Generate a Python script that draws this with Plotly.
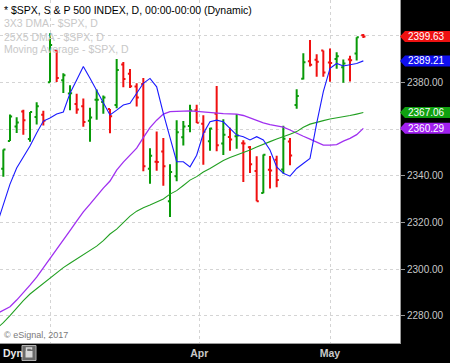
import plotly.graph_objects as go

# ---- data ----
opens = [2343.0, 2354.9, 2361.1, 2367.5, 2355.7, 2365.2, 2366.1, 2380.1, 2393.8, 2380.9,
         2375.2, 2370.7, 2369.8, 2363.5, 2372.5, 2371.6, 2368.6, 2370.3, 2387.7, 2383.7,
         2378.2, 2379.3, 2343.0, 2346.0, 2350.4, 2329.1, 2339.8, 2356.5, 2361.3, 2368.1,
         2362.3, 2354.8, 2366.6, 2353.8, 2356.6, 2356.9, 2353.9, 2352.2, 2342.0, 2332.6,
         2342.5, 2346.8, 2342.7, 2354.7, 2370.3, 2381.5, 2389.0, 2389.7, 2393.7, 2388.5,
         2390.0, 2386.5, 2389.8, 2392.4, 2400.2]
highs = [2351.2, 2366.2, 2365.1, 2368.3, 2367.3, 2371.5, 2367.8, 2401.0, 2393.8, 2383.9,
         2378.8, 2375.1, 2373.1, 2369.1, 2376.9, 2374.4, 2368.6, 2390.0, 2388.7, 2385.7,
         2379.6, 2381.9, 2351.8, 2358.9, 2356.2, 2344.9, 2363.8, 2363.4, 2370.4, 2370.4,
         2365.9, 2360.5, 2378.4, 2364.2, 2360.5, 2366.4, 2355.2, 2352.7, 2348.3, 2349.1,
         2348.4, 2348.5, 2361.4, 2356.2, 2377.0, 2392.5, 2398.2, 2392.1, 2393.7, 2394.5,
         2392.9, 2389.8, 2391.4, 2399.3, 2400.7]
lows = [2339.6, 2354.9, 2358.3, 2357.5, 2354.5, 2361.9, 2361.5, 2380.1, 2380.2, 2375.4,
        2368.0, 2366.5, 2361.0, 2354.5, 2364.0, 2366.5, 2358.2, 2368.9, 2377.9, 2377.6,
        2369.7, 2341.9, 2336.5, 2342.1, 2335.7, 2322.3, 2337.6, 2352.9, 2358.6, 2362.6,
        2344.7, 2350.7, 2350.5, 2348.9, 2350.7, 2351.5, 2337.3, 2341.2, 2329.0, 2332.5,
        2334.5, 2335.1, 2340.9, 2344.5, 2368.7, 2381.2, 2386.8, 2382.4, 2382.4, 2380.3,
        2385.8, 2379.8, 2380.4, 2389.4, 2399.0]
closes = [2351.2, 2365.4, 2362.8, 2363.8, 2367.3, 2369.8, 2363.6, 2396.0, 2381.9, 2383.1,
          2375.3, 2368.4, 2363.0, 2364.9, 2372.6, 2373.5, 2365.5, 2385.3, 2381.4, 2378.3,
          2373.5, 2344.0, 2348.5, 2345.9, 2344.0, 2341.6, 2358.6, 2361.1, 2368.1, 2362.7,
          2358.8, 2360.2, 2353.0, 2357.5, 2355.5, 2357.2, 2353.8, 2344.9, 2329.0, 2349.0,
          2342.2, 2338.2, 2355.8, 2348.7, 2374.2, 2388.6, 2387.5, 2388.8, 2384.2, 2388.3,
          2391.2, 2388.1, 2389.5, 2399.3, 2399.63]

# moving averages, one value per bar starting one bar before the first bar
ma_3x3 = [2318.8, 2327.4, 2336.4, 2343.3, 2348.0, 2352.7, 2358.3, 2363.4, 2364.7, 2366.4,
          2367.3, 2375.3, 2381.0, 2386.8, 2381.8, 2376.7, 2371.6, 2366.0, 2368.1, 2370.3,
          2371.0, 2375.3, 2379.6, 2381.7, 2378.1, 2366.7, 2356.7, 2346.0, 2346.0, 2343.8,
          2348.8, 2358.1, 2363.1, 2363.8, 2363.1, 2360.3, 2357.4, 2356.7, 2355.3, 2356.7,
          2355.3, 2351.0, 2343.8, 2341.0, 2339.8, 2343.1, 2345.3, 2347.4, 2362.4, 2376.0,
          2386.0, 2388.1, 2387.0, 2387.4, 2388.1, 2389.21]
ma_25x5 = [2274.5, 2277.0, 2280.0, 2283.3, 2286.5, 2289.3, 2291.6, 2294.0, 2296.0, 2298.3,
           2300.6, 2302.5, 2304.3, 2306.0, 2307.9, 2309.8, 2312.2, 2315.0, 2317.1, 2320.1,
           2322.7, 2324.8, 2326.3, 2327.4, 2328.7, 2330.0, 2332.1, 2333.6, 2335.8, 2338.1,
           2339.6, 2341.6, 2343.1, 2344.8, 2346.5, 2347.8, 2348.8, 2350.0, 2351.0, 2352.3,
           2353.3, 2354.6, 2355.7, 2356.6, 2357.8, 2358.9, 2360.8, 2362.1, 2363.0, 2363.6,
           2364.3, 2364.7, 2365.2, 2365.8, 2366.4, 2367.06]
ma_avg = [2280.9, 2282.4, 2283.8, 2286.7, 2289.7, 2293.1, 2296.5, 2300.4, 2304.6, 2308.5,
          2312.4, 2316.5, 2320.5, 2324.5, 2327.8, 2331.3, 2334.7, 2337.7, 2342.4, 2345.8,
          2348.8, 2351.8, 2356.3, 2360.6, 2363.8, 2366.4, 2367.5, 2367.7, 2367.8, 2367.8,
          2367.6, 2367.3, 2366.9, 2366.7, 2366.6, 2366.5, 2366.4, 2365.8, 2364.7, 2363.6,
          2362.6, 2361.9, 2361.5, 2360.8, 2359.6, 2358.1, 2356.9, 2355.7, 2354.3, 2353.1,
          2353.1, 2353.3, 2354.8, 2356.0, 2357.6, 2360.29]

y_ticks = [2280, 2300, 2320, 2340, 2360, 2380, 2400]
y_tick_labels = ["2280.00", "2300.00", "2320.00", "2340.00", "2360.00", "2380.00", ""]
month_ticks = [7, 29.4, 49]
month_labels = ["", "Apr", "May"]

Y_RANGE = [2268.3, 2415.3]
X_RANGE = [-0.5, 59.5]

bar_x = list(range(len(closes)))
ma_x = list(range(-1, len(closes)))

GREEN_BAR = "#089a08"
RED_BAR = "#f01010"
FONT = "Arial, Liberation Sans, sans-serif"

fig = go.Figure()
fig.add_trace(go.Ohlc(
    x=bar_x, open=opens, high=highs, low=lows, close=closes,
    increasing=dict(line=dict(color=GREEN_BAR, width=2)),
    decreasing=dict(line=dict(color=RED_BAR, width=2)),
    tickwidth=0.32, hoverinfo="skip", showlegend=False))
fig.add_trace(go.Scatter(x=ma_x, y=ma_avg, mode="lines",
                         line=dict(color="#a030f0", width=1.3), showlegend=False))
fig.add_trace(go.Scatter(x=ma_x, y=ma_25x5, mode="lines",
                         line=dict(color="#22a022", width=1.1), showlegend=False))
fig.add_trace(go.Scatter(x=ma_x, y=ma_3x3, mode="lines",
                         line=dict(color="#1a1aff", width=1.1), showlegend=False))

def py(v):
    return (v - Y_RANGE[0]) / (Y_RANGE[1] - Y_RANGE[0])

PLOT_W, PLOT_H = 400, 343
shapes = []
annotations = []
tags = [(closes[-1], "#ee1111"), (ma_3x3[-1], "#1010f0"),
        (ma_25x5[-1], "#10a010"), (ma_avg[-1], "#a020f0")]
for val, col in tags:
    yc = py(val)
    hh = 5.5 / PLOT_H
    x0 = 1.0
    x1 = 1.0 + 5 / PLOT_W
    x2 = 1.0 + 50 / PLOT_W
    shapes.append(dict(type="path", xref="paper", yref="paper",
                       path=f"M {x0},{yc} L {x1},{yc+hh} L {x2},{yc+hh} L {x2},{yc-hh} L {x1},{yc-hh} Z",
                       fillcolor=col, line=dict(width=0), layer="above"))
    annotations.append(dict(xref="paper", yref="paper", x=1.0 + 5.5 / PLOT_W, y=yc,
                            xanchor="left", yanchor="middle", showarrow=False,
                            text=f"{val:.2f}", font=dict(family=FONT, size=10, color="#ffffff")))

# header texts
header = [("* $SPX, S & P 500 INDEX, D, 00:00-00:00 (Dynamic)", "#000000", 10),
          ("3X3 DMA - $SPX, D", "#c8c8c8", 23.5),
          ("25X5 DMA - $SPX, D", "#c8c8c8", 36.5),
          ("Moving Average - $SPX, D", "#c8c8c8", 49.5)]
for txt, col, ypx in header:
    annotations.append(dict(xref="paper", yref="paper", x=2 / PLOT_W, y=1 - ypx / PLOT_H,
                            xanchor="left", yanchor="middle", showarrow=False, text=txt,
                            font=dict(family=FONT, size=10.5, color=col)))
annotations.append(dict(xref="paper", yref="paper", x=2 / PLOT_W, y=1 - 335 / PLOT_H,
                        xanchor="left", yanchor="middle", showarrow=False,
                        text="© eSignal, 2017", font=dict(family=FONT, size=9, color="#7a7a7a")))
annotations.append(dict(xref="paper", yref="paper", x=0.5 / PLOT_W, y=-10 / PLOT_H,
                        xanchor="left", yanchor="middle", showarrow=False,
                        text="<b>Dyn</b>", font=dict(family=FONT, size=10.5, color="#e8e8e8")))
# lock button
shapes.append(dict(type="rect", xref="paper", yref="paper",
                   x0=22 / PLOT_W, x1=36 / PLOT_W, y0=-2.5 / PLOT_H, y1=-17.5 / PLOT_H,
                   fillcolor="#6a6a6a", line=dict(color="#b0b0b0", width=1), layer="above"))
shapes.append(dict(type="rect", xref="paper", yref="paper",
                   x0=25.5 / PLOT_W, x1=32.5 / PLOT_W, y0=-8 / PLOT_H, y1=-14.5 / PLOT_H,
                   fillcolor="#d8d8d8", line=dict(width=0), layer="above"))
shapes.append(dict(type="path", xref="paper", yref="paper",
                   path=f"M {26.5/PLOT_W},{-8/PLOT_H} L {26.5/PLOT_W},{-5/PLOT_H} L {31.5/PLOT_W},{-5/PLOT_H} L {31.5/PLOT_W},{-6.5/PLOT_H}",
                   line=dict(color="#d8d8d8", width=1.5), layer="above"))

fig.update_layout(
    width=450, height=363,
    margin=dict(l=0, r=50, t=0, b=20),
    paper_bgcolor="#000000", plot_bgcolor="#ffffff",
    showlegend=False, shapes=shapes, annotations=annotations,
    font=dict(family=FONT),
    xaxis=dict(range=X_RANGE, rangeslider=dict(visible=False), tickmode="array",
               tickvals=month_ticks, ticktext=month_labels, showgrid=True,
               gridcolor="#d4d4d4", griddash="dot", gridwidth=1, zeroline=False,
               showline=True, linecolor="#9a9a9a", linewidth=1, ticks="",
               tickfont=dict(family=FONT, size=10.5, color="#c8c8c8", weight="bold")),
    yaxis=dict(range=Y_RANGE, side="right", tickmode="array", tickvals=y_ticks,
               ticktext=y_tick_labels, showgrid=True, gridcolor="#d4d4d4", griddash="dot",
               gridwidth=1, zeroline=False, showline=True, linecolor="#9a9a9a", linewidth=1,
               ticks="outside", ticklen=4, tickcolor="#9a9a9a",
               tickfont=dict(family=FONT, size=10, color="#c8c8c8")),
)

fig.write_html("out.html", config={"displayModeBar": False},
               post_script="document.body.style.margin='0';document.body.style.background='#000';")
